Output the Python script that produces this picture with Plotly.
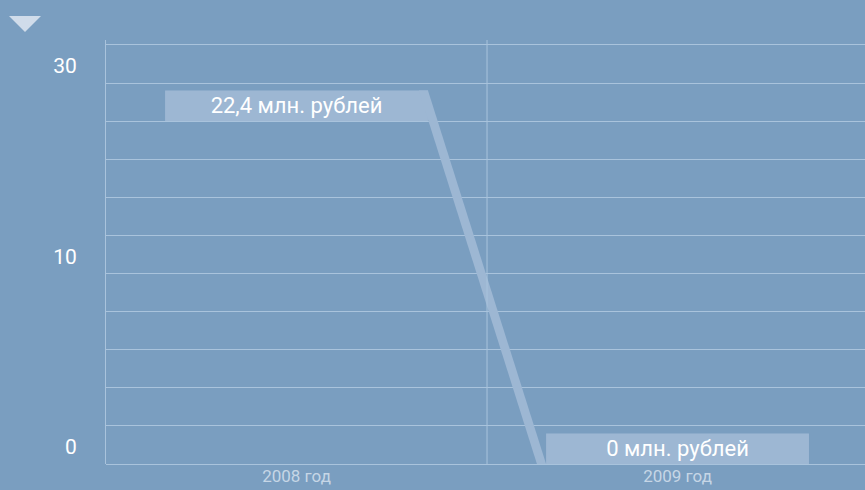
import plotly.graph_objects as go

years = ["2008 год", "2009 год"]
values = [22.4, 0]
bar_text = ["22,4 млн. рублей", "0 млн. рублей"]
y_tick_text = ["0", "10", "30"]

BG = "#7a9ec0"
BAR = "#9db7d3"
GRID = "#a9c3dc"

band = values[0] / 9          # one grid step in value units
bar_h = 0.8 * band
bar_w = 0.69
x_pos = list(range(len(years)))

fig = go.Figure()

# sloped connector between the two bars
x1r = x_pos[0] + bar_w / 2
x2l = x_pos[1] - bar_w / 2
w = 0.024
fig.add_trace(go.Scatter(
    x=[x1r - w, x1r, x2l, x2l - w],
    y=[values[0] + bar_h, values[0] + bar_h, values[1], values[1]],
    fill="toself", fillcolor=BAR, mode="none", hoverinfo="skip"
))

fig.add_trace(go.Bar(
    x=x_pos, y=[bar_h] * len(values), base=values, width=bar_w,
    marker=dict(color=BAR, line=dict(width=0)),
    text=bar_text, textposition="inside", insidetextanchor="middle",
    textangle=0, constraintext="none",
    textfont=dict(color="white", size=22, family="Roboto")
))

# invisible trace to carry the labelled axis
fig.add_trace(go.Scatter(x=[0], y=[0], yaxis="y2", mode="none", hoverinfo="skip"))

y_top = 424 / 38.1 * band
fig.update_layout(
    width=865, height=490,
    margin=dict(l=106, r=0, t=40, b=26),
    paper_bgcolor=BG, plot_bgcolor=BG,
    showlegend=False,
    xaxis=dict(
        range=[-0.5, 1.492], tickvals=x_pos, ticktext=years,
        showgrid=False, zeroline=False, automargin=False,
        tickfont=dict(color="#c6d6e6", size=17, family="Roboto"),
    ),
    yaxis=dict(
        range=[0, y_top], tick0=0, dtick=band, showticklabels=False,
        showgrid=True, gridcolor=GRID, gridwidth=1,
        zeroline=True, zerolinecolor=GRID, zerolinewidth=1,
        showline=True, linecolor=GRID, linewidth=1,
    ),
    yaxis2=dict(
        overlaying="y", side="left", range=[0, y_top], automargin=False,
        tickvals=[0.45 * band, 5.45 * band, 10.45 * band], ticktext=y_tick_text,
        showgrid=False, zeroline=False,
        ticks="outside", ticklen=24, tickcolor=BG,
        tickfont=dict(color="white", size=21, family="Roboto"),
    ),
)

fig.add_vline(x=0.5, line=dict(color=GRID, width=1))

# small triangle marker in the top-left corner
fig.add_shape(
    type="path", xref="paper", yref="paper",
    xsizemode="pixel", ysizemode="pixel", xanchor=0, yanchor=1,
    path="M -97,24 L -65,24 L -81,8 Z",
    fillcolor="#d0dcea", line=dict(width=0),
)

fig.write_html("out.html", config={"displayModeBar": False},
               post_script="document.body.style.margin='0';")
